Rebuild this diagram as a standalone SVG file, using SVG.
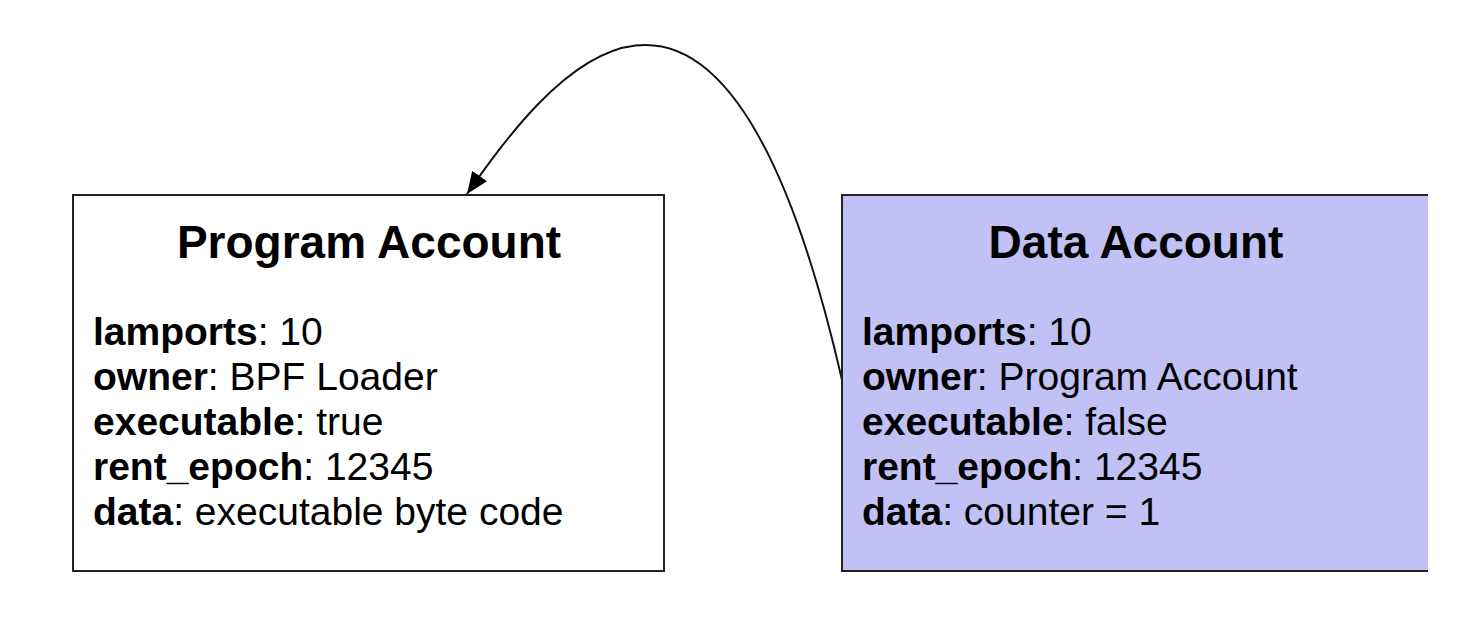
<svg xmlns="http://www.w3.org/2000/svg" width="1484" height="628" viewBox="0 0 1484 628">
  <style>
    .title { font-family: "Liberation Sans", Arial, sans-serif; font-size: 46px; font-weight: bold; fill: #000; }
    .body { font-family: "Liberation Sans", Arial, sans-serif; font-size: 39px; fill: #000; }
    .b { font-weight: bold; }
    .box { stroke: #222; stroke-width: 2; }
    .conn { fill: none; stroke: #111; stroke-width: 2; }
  </style>
  <defs>
    <marker id="arrow" markerWidth="24" markerHeight="18" refX="22" refY="9" orient="auto" markerUnits="userSpaceOnUse">
      <path d="M0,0 L22,9 L0,18 Z" fill="#000"/>
    </marker>
  </defs>
  <rect width="1484" height="628" fill="#ffffff"/>

  <g id="connectors">
    <path class="conn" d="M842,380 C718,-160 540,90 467,194" marker-end="url(#arrow)"/>
  </g>

  <g id="program-account">
    <rect class="box" x="73" y="195" width="591" height="376" fill="#ffffff"/>
    <text class="title" x="369" y="258" text-anchor="middle">Program Account</text>
    <text class="body" x="93" y="345"><tspan class="b">lamports</tspan>: 10</text>
    <text class="body" x="93" y="390"><tspan class="b">owner</tspan>: BPF Loader</text>
    <text class="body" x="93" y="435"><tspan class="b">executable</tspan>: true</text>
    <text class="body" x="93" y="480"><tspan class="b">rent_epoch</tspan>: 12345</text>
    <text class="body" x="93" y="525"><tspan class="b">data</tspan>: executable byte code</text>
  </g>

  <g id="data-account">
    <rect x="842" y="195" width="586" height="376" fill="#c1c1f6"/>
    <path class="box" d="M1428,195 L842,195 L842,571 L1428,571" fill="none"/>
    <text class="title" x="1136" y="258" text-anchor="middle">Data Account</text>
    <text class="body" x="862" y="345"><tspan class="b">lamports</tspan>: 10</text>
    <text class="body" x="862" y="390"><tspan class="b">owner</tspan>: Program Account</text>
    <text class="body" x="862" y="435"><tspan class="b">executable</tspan>: false</text>
    <text class="body" x="862" y="480"><tspan class="b">rent_epoch</tspan>: 12345</text>
    <text class="body" x="862" y="525"><tspan class="b">data</tspan>: counter = 1</text>
  </g>
</svg>
